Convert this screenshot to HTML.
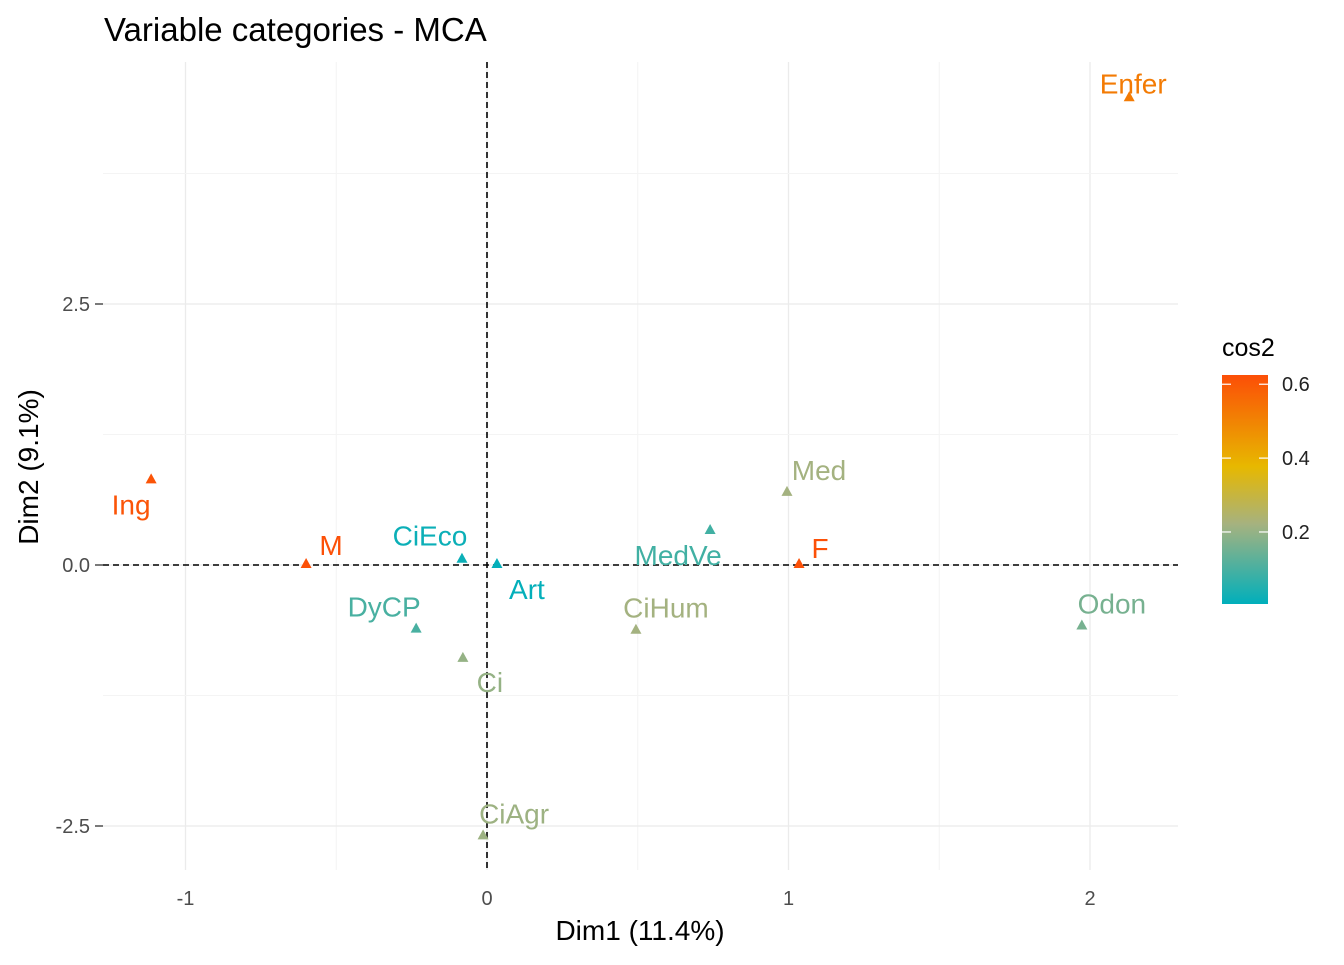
<!DOCTYPE html>
<html><head><meta charset="utf-8"><style>
body{margin:0;background:#fff;}
svg text{font-family:"Liberation Sans",Arial,sans-serif;}
</style></head><body>
<svg id="chart" width="1344" height="960" xmlns="http://www.w3.org/2000/svg">
<defs><linearGradient id="grad" x1="0" y1="1" x2="0" y2="0">
<stop offset="0" stop-color="#00AFBB"/><stop offset="0.35" stop-color="#A6B27F"/><stop offset="0.6" stop-color="#E7B800"/><stop offset="1" stop-color="#FC4E07"/></linearGradient></defs>
<g id="grid"></g>
<g id="marks"></g>
<text x="104" y="41" font-size="33" fill="#000">Variable categories - MCA</text>
<text x="640" y="940" font-size="28" text-anchor="middle">Dim1 (11.4%)</text>
<text transform="translate(38,467) rotate(-90)" font-size="28" text-anchor="middle">Dim2 (9.1%)</text>
<g>
<text x="1222" y="356" font-size="25">cos2</text>
<rect x="1222" y="375" width="46" height="229" fill="url(#grad)"/>
<g id="legticks"></g>
</g>
</svg>
<script>
const labels=["Enfer","Ing","M","CiEco","Art","MedVe","Med","F","Odon","DyCP","Ci","CiHum","CiAgr"];
const dim1=[2.13,-1.114,-0.60,-0.083,0.033,0.74,0.995,1.035,1.973,-0.235,-0.08,0.494,-0.013];
const dim2=[4.48,0.82,0.01,0.06,0.01,0.335,0.70,0.01,-0.58,-0.61,-0.89,-0.62,-2.59];
const cos2=[0.52,0.61,0.62,0.02,0.01,0.09,0.22,0.62,0.16,0.10,0.20,0.22,0.21];
const xTicks=[-1,0,1,2];
const yTicks=[-2.5,0,2.5];
const legTicks=[0.2,0.4,0.6];
// label offsets (layout)
const ldx=[4,-20,25,-32,30,-32,32,21,30,-32,27,30,31];
const ldy=[-4,35,-9,-13,35,35,-12,-6,-12,-12,34,-12,-12];
const X=v=>487+v*301.5, Y=v=>565-v*104.4;
const ns="http://www.w3.org/2000/svg";
function mk(t,a,p){const e=document.createElementNS(ns,t);for(const k in a)e.setAttribute(k,a[k]);p.appendChild(e);return e;}
const grid=document.getElementById('grid'),marks=document.getElementById('marks');
const L=103,R=1178,T=62,B=870;
[-0.5,0.5,1.5].forEach(v=>mk('line',{x1:X(v),x2:X(v),y1:T,y2:B,stroke:'#f4f4f4'},grid));
xTicks.forEach(v=>{
 const g=mk('line',{x1:X(v),x2:X(v),y1:T,y2:B,stroke:'#ebebeb','stroke-width':1.3},grid);
 
 const t=mk('text',{x:X(v),y:905,'font-size':20,fill:'#4d4d4d','text-anchor':'middle'},grid);t.textContent=v;
 
});
[-1.25,1.25,3.75].forEach(v=>mk('line',{x1:L,x2:R,y1:Y(v),y2:Y(v),stroke:'#f4f4f4'},grid));
yTicks.forEach(v=>{
 const g=mk('line',{x1:L,x2:R,y1:Y(v),y2:Y(v),stroke:'#ebebeb','stroke-width':1.3},grid);
 
 mk('line',{x1:95,x2:L,y1:Y(v),y2:Y(v),stroke:'#333','stroke-width':1.3},grid);
 const t=mk('text',{x:90,y:Y(v)+7,'font-size':20,fill:'#4d4d4d','text-anchor':'end'},grid);t.textContent=v.toFixed(1);
 
});
mk('line',{x1:X(0),x2:X(0),y1:T,y2:B,stroke:'#000','stroke-width':1.6,'stroke-dasharray':'6,4'},grid);
mk('line',{x1:L,x2:R,y1:Y(0),y2:Y(0),stroke:'#000','stroke-width':1.6,'stroke-dasharray':'6,4'},grid);
const cmin=0.005,cmax=0.625;
function hex(h){return [1,3,5].map(i=>parseInt(h.substr(i,2),16));}
const stops=[[0,hex('#00AFBB')],[0.35,hex('#A6B27F')],[0.6,hex('#E7B800')],[1,hex('#FC4E07')]];
function col(v){let t=(v-cmin)/(cmax-cmin);t=Math.max(0,Math.min(1,t));
 for(let i=0;i<stops.length-1;i++){const [p0,a]=stops[i],[p1,b]=stops[i+1];
  if(t<=p1){const u=(t-p0)/(p1-p0);return 'rgb('+a.map((x,k)=>Math.round(x+(b[k]-x)*u)).join(',')+')';}}
 return '#FC4E07';}
labels.forEach((lab,i)=>{
 const x=X(dim1[i]),y=Y(dim2[i]),c=col(cos2[i]);
 const p=mk('polygon',{points:`${x},${y-6} ${x-5.5},${y+4} ${x+5.5},${y+4}`,fill:c},marks);
 
 const t=mk('text',{x:x+ldx[i],y:y+ldy[i],'font-size':28,fill:c,'text-anchor':'middle'},marks);t.textContent=lab;
 
});
const lt=document.getElementById('legticks');
legTicks.forEach(v=>{const y=604-(v-cmin)/(cmax-cmin)*229;
 mk('line',{x1:1222,x2:1231,y1:y,y2:y,stroke:'#fff','stroke-width':1.2},lt);
 mk('line',{x1:1259,x2:1268,y1:y,y2:y,stroke:'#fff','stroke-width':1.2},lt);
 const t=mk('text',{x:1282,y:y+7,'font-size':20,fill:'#222'},lt);t.textContent=v.toFixed(1);
 });
</script>
</body></html>
